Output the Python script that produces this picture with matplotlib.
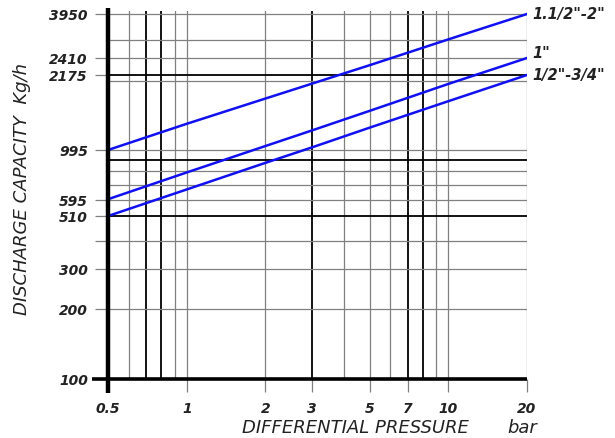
import numpy as np
import matplotlib
matplotlib.use("Agg")
from matplotlib import pyplot as plt
from matplotlib.ticker import NullLocator, FixedLocator, FixedFormatter

# pressure (bar) and discharge (kg/h)
pressure = [0.5, 1, 2, 3, 5, 10, 20]
cap_big = [995, 1297, 1675, 1944, 2307, 3019, 3950]    # 1.1/2"-2"
cap_one = [600, 789, 1036, 1211, 1478, 1941, 2410]     # 1"
cap_small = [510, 667, 873, 1020, 1247, 1630, 2175]    # 1/2"-3/4"
series_names = ['1.1/2"-2"', '1"', '1/2"-3/4"']

x_ticks = [0.5, 1, 2, 3, 5, 7, 10, 20]
x_grid = [0.5, 0.6, 0.7, 0.8, 0.9, 1, 2, 3, 4, 5, 6, 7, 8, 9, 10, 20]
x_heavy = [0.7, 0.8, 3, 7, 8]
y_ticks = [100, 200, 300, 400, 510, 595, 995, 2175, 2410, 3950]
y_tick_labels = ['100', '200', '300', '', '510', '595', '995', '2175', '2410', '3950']
y_grid = [100, 200, 300, 400, 510, 595, 700, 800, 900, 995, 2000, 2175, 2410, 3000, 3950]
y_heavy = [510, 900, 2175]

# the printed chart's capacity axis is a hand-drawn, slightly uneven log scale
scale_vals = np.array([10, 100, 200, 300, 400, 510, 595, 700, 800, 900, 995,
                       2000, 2175, 2410, 3000, 3950, 40000])
scale_pos = np.array([612, 380, 310, 270, 242, 217, 201, 186, 172, 161, 151,
                      82, 76, 59, 41, 15, -217])
log_vals = np.log10(scale_vals)


def fwd(v):
    v = np.asarray(v, dtype=float)
    with np.errstate(divide='ignore', invalid='ignore'):
        lv = np.log10(np.where(v > 0, v, 1e-9))
    return -np.interp(lv, log_vals, scale_pos)


def inv(p):
    p = np.asarray(p, dtype=float)
    return 10 ** np.interp(-p, scale_pos[::-1], log_vals[::-1])


W, H = 615, 439
top_px = 12
fig = plt.figure(figsize=(W / 100, H / 100), dpi=100)
ax = fig.add_axes([108 / W, (H - 380) / H, (527 - 108) / W, (380 - top_px) / H])
ax.set_xscale('log')
ax.set_yscale('function', functions=(fwd, inv))
ax.set_xlim(0.5, 20)
ax.set_ylim(100, float(inv(-top_px)))

for xv in x_grid:
    heavy = xv in x_heavy
    ax.axvline(xv, color='black' if heavy else '#808080', lw=1.3 if heavy else 0.9, zorder=1)
for yv in y_grid:
    heavy = yv in y_heavy
    ax.axhline(yv, color='black' if heavy else '#808080', lw=1.3 if heavy else 0.9, zorder=1)

blue = '#1010f0'
ax.plot(pressure, cap_big, color=blue, lw=1.8, zorder=3)
ax.plot(pressure, cap_one, color=blue, lw=1.8, zorder=3)
ax.plot(pressure, cap_small, color=blue, lw=1.8, zorder=3)

lab_font = dict(fontsize=10.5, fontweight='bold', fontstyle='italic', color='#222222',
                family='DejaVu Sans')
ax.annotate(series_names[0], (20, cap_big[-1]), xytext=(4, 0), textcoords='offset points',
            va='center', ha='left', annotation_clip=False, **lab_font)
ax.annotate(series_names[1], (20, cap_one[-1]), xytext=(4, 4), textcoords='offset points',
            va='center', ha='left', annotation_clip=False, **lab_font)
ax.annotate(series_names[2], (20, cap_small[-1]), xytext=(4, 0), textcoords='offset points',
            va='center', ha='left', annotation_clip=False, **lab_font)

for s in ['top', 'right', 'left', 'bottom']:
    ax.spines[s].set_visible(False)
# thick crossing axis lines
ax.plot([0, 0], [-0.037, 1.008], transform=ax.transAxes, color='black', lw=3.2,
        clip_on=False, zorder=4, solid_capstyle='butt')
ax.plot([-0.038, 1.0], [0, 0], transform=ax.transAxes, color='black', lw=2.6,
        clip_on=False, zorder=4, solid_capstyle='butt')

ax.xaxis.set_major_locator(FixedLocator(x_ticks))
ax.xaxis.set_major_formatter(FixedFormatter([str(v) for v in x_ticks]))
ax.xaxis.set_minor_locator(NullLocator())
ax.yaxis.set_major_locator(FixedLocator(y_ticks))
ax.yaxis.set_major_formatter(FixedFormatter(y_tick_labels))
ax.yaxis.set_minor_locator(NullLocator())
ax.tick_params(axis='both', direction='out', length=9.5, width=0.9, color='#808080',
               labelsize=10, labelcolor='#222222')
ax.tick_params(axis='y', pad=5)
ax.tick_params(axis='x', pad=6)
for t in ax.get_xticklabels() + ax.get_yticklabels():
    t.set_fontstyle('italic')
    t.set_fontweight('bold')
    t.set_family('DejaVu Sans')

title_font = dict(fontsize=13, fontstyle='italic', color='#222222', family='DejaVu Sans')
fig.text(22 / W, 1 - 189 / H, 'DISCHARGE CAPACITY  Kg/h', rotation=90, ha='center',
         va='center', **title_font)
fig.text(355 / W, 1 - 428 / H, 'DIFFERENTIAL PRESSURE', ha='center', va='center', **title_font)
fig.text(522 / W, 1 - 428 / H, 'bar', ha='center', va='center', **title_font)

fig.savefig('out.png', dpi=100)
